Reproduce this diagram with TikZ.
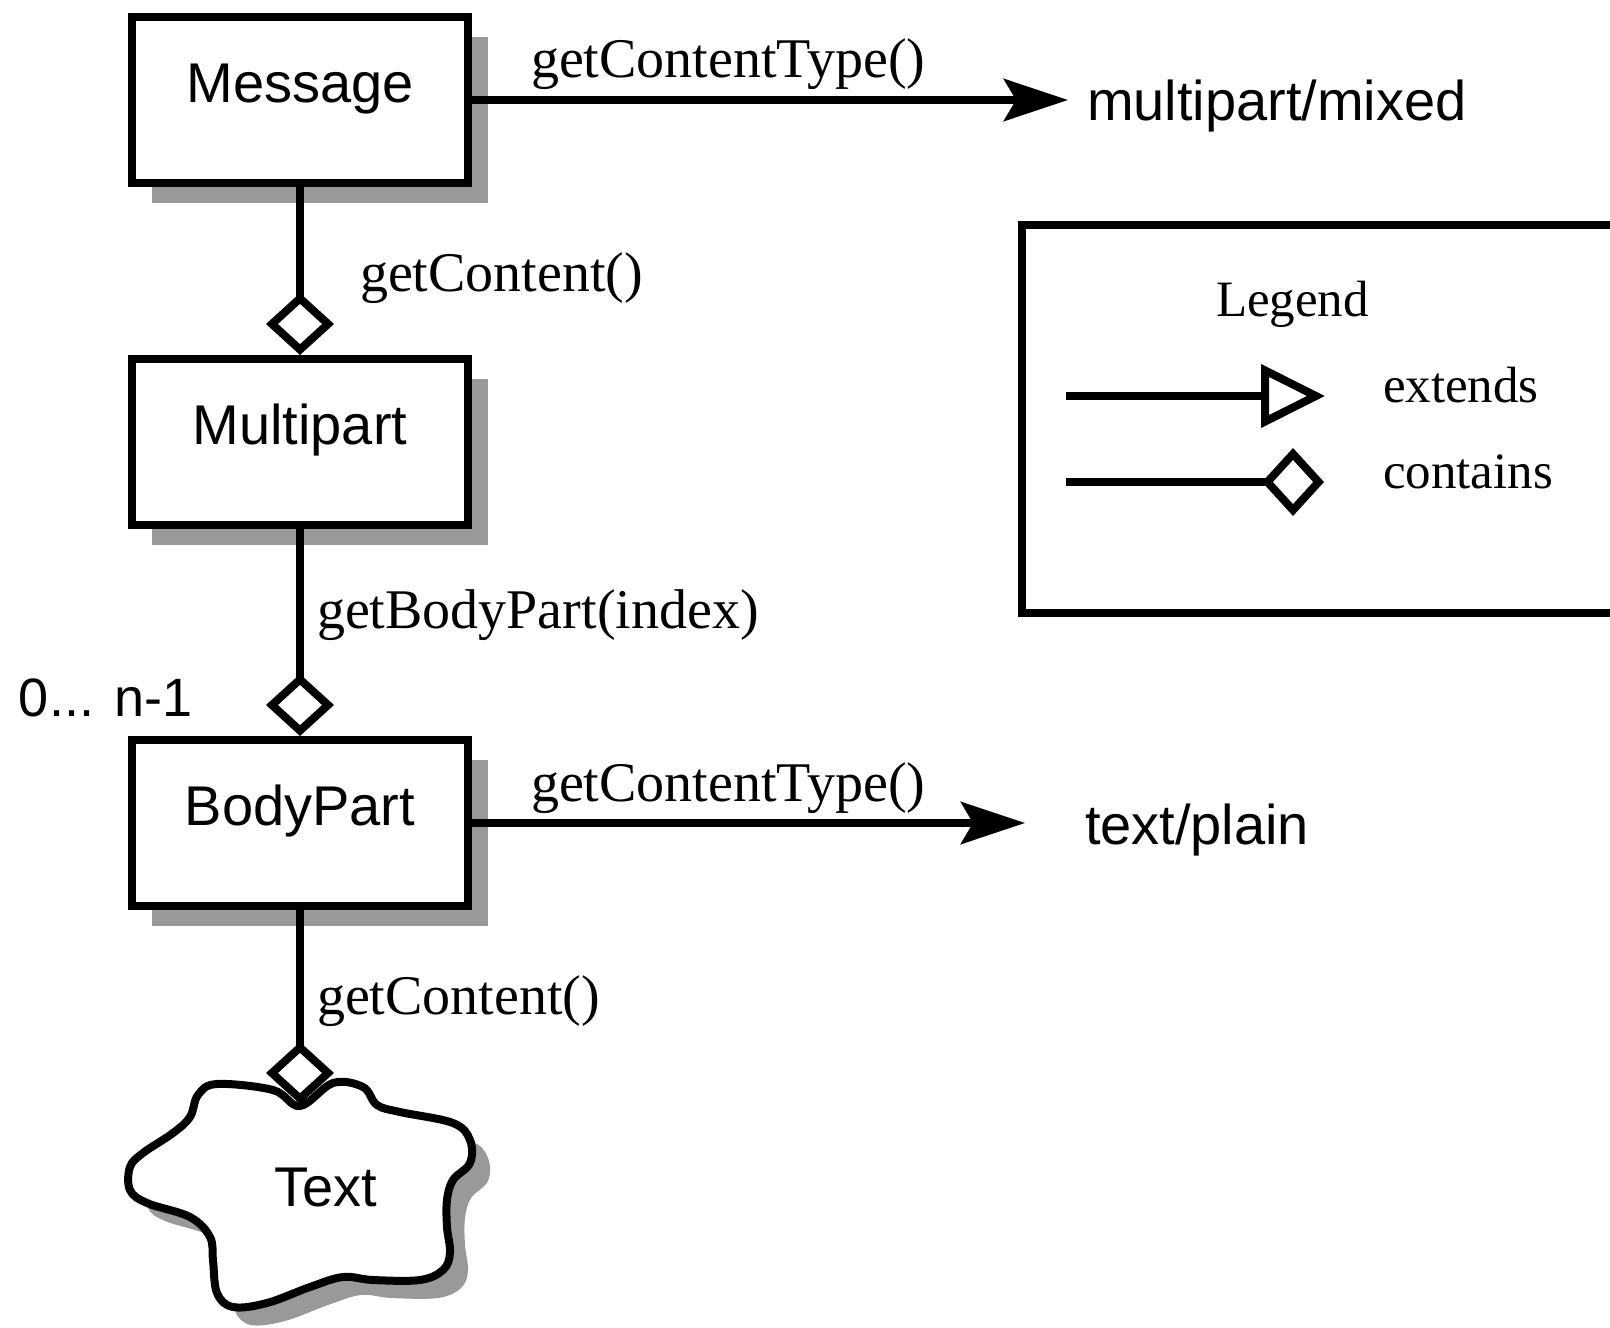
\documentclass[tikz,border=0pt]{standalone}
\usepackage{fontspec}
\setmainfont{Liberation Serif}
\setsansfont{Liberation Sans}
\usetikzlibrary{arrows.meta,shadows}

\newcommand\cloudshape{plot[smooth cycle, tension=0.6] coordinates {
    (198,1095) (217,1084) (273,1090) (300,1106) (333,1083) (363,1087)
    (377,1105) (400,1112) (453,1123) (470,1140) (470,1163) (453,1180)
    (447,1200) (447,1227) (450,1253) (443,1270) (420,1280) (373,1280)
    (343,1277) (310,1287) (267,1303) (233,1307) (217,1293) (213,1260)
    (210,1237) (190,1217) (147,1203) (130,1190) (130,1167) (143,1153)
    (173,1133) (190,1117)}}

\begin{document}
\begin{tikzpicture}[x=1pt, y=-1pt, line width=8pt,
    classbox/.style={draw, fill=white, minimum width=336pt, minimum height=166pt,
        font=\sffamily\fontsize{56}{60}\selectfont, text height=0.75em, text depth=0.35em,
        drop shadow={shadow xshift=20pt, shadow yshift=-20pt, fill=black!40, opacity=1}},
    method/.style={anchor=base west, inner sep=0pt, font=\fontsize{56}{60}\selectfont},
    result/.style={anchor=base west, inner sep=0pt, font=\sffamily\fontsize{56}{60}\selectfont},
    legendtext/.style={anchor=base west, inner sep=0pt, font=\fontsize{51}{55}\selectfont},
    contains/.style={-{Diamond[open, length=62pt, width=68pt]}},
    returns/.style={-{Stealth[length=64pt, width=42pt, inset=12pt]}},
    extends/.style={-{Triangle[open, length=64pt, width=62pt]}}]
    \useasboundingbox (0,0) rectangle (1610,1328);

    % classes
    \node[classbox] (message) at (300,100) {Message};
    \node[classbox] (multipart) at (300,442) {Multipart};
    \node[classbox] (bodypart) at (300,823) {BodyPart};

    % content of the body part
    \fill[black!40, shift={(18,18)}] \cloudshape;
    \draw[fill=white] \cloudshape;
    \node[font=\sffamily\fontsize{56}{60}\selectfont, anchor=base, inner sep=0pt] (text) at (326,1206) {Text};
    \coordinate (cloudtop) at (300,1104);

    \draw[contains] (message) -- (multipart);
    \draw[contains] (multipart) -- (bodypart);
    \draw[contains] (bodypart) -- (cloudtop);

    \node[method] (typemsg) at (527,77) {getContentType()};
    \node[result] (mixed) at (1083,120) {multipart/mixed};
    \draw[returns, shorten >=15pt] (message) -- (message -| mixed.west);

    \node[method] (contentmsg) at (356,291) {getContent()};
    \node[method] (partlbl) at (313,628) {getBodyPart(index)};
    \node[result, font=\sffamily\fontsize{54}{58}\selectfont] (range) at (15,716) {0... n-1};

    \node[method] (typebody) at (527,801) {getContentType()};
    \node[result] (plain) at (1081,844) {text/plain};
    \draw[returns, shorten >=56pt] (bodypart) -- (bodypart -| plain.west);
    \node[method] (contentbody) at (313,1014) {getContent()};

    % legend
    \draw (1610,225) -| (1022,613) -- (1610,613);
    \node[legendtext] (legend) at (1212,316) {Legend};
    \coordinate (extstart) at (1066,396);
    \coordinate (extend) at (1325,396);
    \draw[extends] (extstart) -- (extend);
    \node[legendtext] (extlbl) at (1379,402) {extends};
    \coordinate (constart) at (1066,482);
    \coordinate (conend) at (1324,482);
    \draw[contains] (constart) -- (conend);
    \node[legendtext] (conlbl) at (1379,488) {contains};
\end{tikzpicture}
\end{document}
